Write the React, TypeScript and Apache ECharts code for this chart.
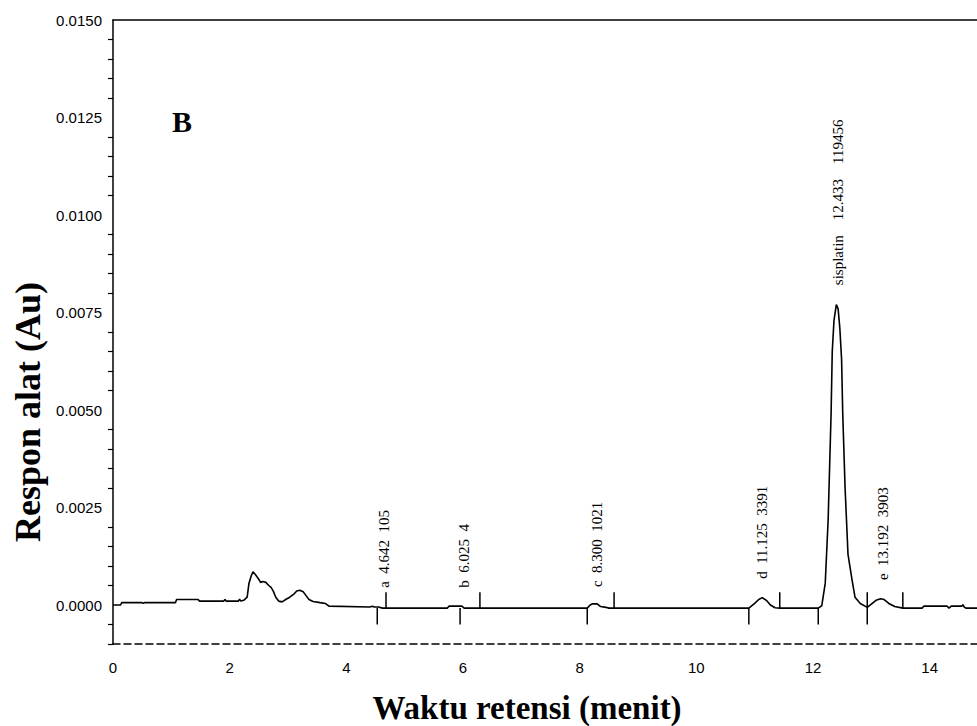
import React, { useEffect, useRef } from "react";
import * as echarts from "echarts";

// Chromatogram trace (retention time in minutes, detector response in AU)
const timeMin = [
  0.0, 0.13, 0.15, 0.5, 0.52, 0.54, 1.07, 1.09, 1.46, 1.48, 1.9, 1.92, 1.94, 2.15, 2.17, 2.19,
  2.24, 2.3, 2.33, 2.37, 2.4, 2.44, 2.49, 2.53, 2.57, 2.62, 2.67, 2.71, 2.75, 2.79, 2.84, 2.9,
  2.96, 3.03, 3.1, 3.15, 3.2, 3.26, 3.31, 3.36, 3.43, 3.55, 3.64, 3.7, 4.4, 4.45, 4.47, 4.55,
  4.62, 5.73, 5.76, 5.98, 6.02, 8.13, 8.18, 8.22, 8.3, 8.36, 8.45, 8.5, 10.9, 11.0, 11.07, 11.13,
  11.2, 11.27, 11.35, 11.43, 12.09, 12.15, 12.21, 12.26, 12.31, 12.33, 12.36, 12.4, 12.43, 12.46,
  12.49, 12.51, 12.55, 12.6, 12.67, 12.72, 12.81, 12.93, 13.0, 13.08, 13.16, 13.22, 13.3, 13.4,
  13.54, 13.87, 13.9, 14.3, 14.33, 14.37, 14.55, 14.57, 14.59, 14.62, 15.0,
];
const response = [
  0.0, 0.0, 0.00006, 0.00006, 0.00004, 0.00006, 0.00006, 0.00014, 0.00014, 0.0001, 0.0001,
  0.00014, 0.0001, 0.0001, 0.00015, 0.0001, 0.00012, 0.0002, 0.00055, 0.00075, 0.00085, 0.00078,
  0.00068, 0.00058, 0.0006, 0.00058, 0.0005, 0.00045, 0.00035, 0.0002, 0.0001, 0.00008, 0.00014,
  0.0002, 0.00028, 0.00036, 0.00038, 0.00034, 0.00024, 0.00014, 0.00009, 0.00006, 0.00004,
  -0.00003, -0.00005, -0.00003, -0.00005, -0.00005, -0.00008, -0.00008, -0.00003, -0.00003,
  -0.00008, -0.00008, 0.0, 0.00003, 0.00003, -0.00004, -0.00006, -0.00008, -0.00008, 0.00004,
  0.00014, 0.00019, 0.00012, 0.0, -0.00007, -0.00008, -0.00008, -0.00002, 0.00056, 0.0022,
  0.0049, 0.0065, 0.0073, 0.0077, 0.0076, 0.0071, 0.0063, 0.0049, 0.003, 0.0013, 0.00064, 0.0002,
  0.00004, -0.00006, 0.00002, 0.00012, 0.00016, 0.00014, 0.00004, -0.00004, -0.00008, -0.00008,
  -0.00003, -0.00003, -0.00008, -0.00003, -0.00003, 0.00001, -0.00005, -0.00008, -0.00008,
];

// Peak annotations
const peakNames = ["a", "b", "c", "d", "sisplatin", "e"];
const peakTimes = [4.642, 6.025, 8.3, 11.125, 12.433, 13.192];
const peakTimeLabels = ["4.642", "6.025", "8.300", "11.125", "12.433", "13.192"];
const peakAreas = ["105", "4", "1021", "3391", "119456", "3903"];
const peakLabelBase = [0.00044, 0.00044, 0.00046, 0.00067, 0.0082, 0.00064];

// Integration markers (start / end of peaks)
const markerTimes = [4.53, 4.68, 5.95, 6.29, 8.13, 8.59, 10.9, 11.43, 12.09, 12.93, 13.54];
const markerKinds = ["down", "up", "down", "up", "down", "up", "down", "up", "down", "both", "up"];
const markerBase = -0.00008;
const markerLow = -0.0005;
const markerHigh = 0.00033;

// Axes
const xMin = 0;
const xMax = 15;
const xStep = 2;
const xTickLabels = [0, 2, 4, 6, 8, 10, 12, 14];
const yMin = -0.001;
const yMax = 0.015;
const yStep = 0.0005;
const yTickLabels = ["0.0000", "0.0025", "0.0050", "0.0075", "0.0100", "0.0125", "0.0150"];

const serif = '"Liberation Serif", "Times New Roman", serif';
const sans = '"Liberation Sans", Arial, sans-serif';
const NB = "\u00A0";

export default function App() {
  const ref = useRef<HTMLDivElement>(null);

  useEffect(() => {
    if (!ref.current) return;
    const chart = echarts.init(ref.current, undefined, { renderer: "svg" });

    const traceData = timeMin.map((t, i) => [t, response[i]]);
    const markerData = markerTimes.map((t, i) => {
      const k = markerKinds[i];
      const lo = k === "up" ? markerBase : markerLow;
      const hi = k === "down" ? markerBase : markerHigh;
      return [t, lo, hi];
    });
    const labelData = peakTimes.map((t, i) => [t, peakLabelBase[i], i]);

    const yLabelValues = yTickLabels.map((s) => parseFloat(s));
    const yMinorValues: number[] = [];
    const nSteps = Math.round((yMax - yMin) / yStep);
    for (let k = 0; k <= nSteps; k++) {
      const v = +(yMin + k * yStep).toFixed(6);
      if (!yLabelValues.some((l) => Math.abs(l - v) < 1e-7)) yMinorValues.push(v);
    }

    chart.setOption({
      animation: false,
      backgroundColor: "#fff",
      grid: { left: 113, top: 20, width: 875, height: 624, show: false, containLabel: false, outerBoundsMode: "none" },
      xAxis: [
        {
          type: "value",
          min: xMin,
          max: xMax,
          interval: xStep,
          position: "bottom",
          axisLine: { show: true, onZero: false, lineStyle: { color: "#000", width: 1.5, type: [7, 4] } },
          axisTick: { show: false },
          splitLine: { show: false },
          axisLabel: {
            margin: 16,
            color: "#000",
            fontFamily: sans,
            fontSize: 15,
            customValues: xTickLabels,
            formatter: (v: number) => String(v),
          },
        },
        {
          type: "value",
          min: xMin,
          max: xMax,
          position: "top",
          axisLine: { show: true, onZero: false, lineStyle: { color: "#000", width: 1.5 } },
          axisTick: { show: false },
          splitLine: { show: false },
          axisLabel: { show: false },
        },
      ],
      yAxis: {
        type: "value",
        min: yMin,
        max: yMax,
        interval: yStep,
        axisLine: { show: true, onZero: false, lineStyle: { color: "#000", width: 1.5 } },
        axisTick: { show: true, length: 5, customValues: yMinorValues, lineStyle: { color: "#000", width: 1.2 } },
        splitLine: { show: false },
        axisLabel: {
          margin: 11,
          color: "#000",
          fontFamily: sans,
          fontSize: 15,
          customValues: yLabelValues,
          formatter: (v: number) => v.toFixed(4),
        },
      },
      graphic: [
        {
          type: "text",
          x: 172,
          y: 121,
          style: { text: "B", fontFamily: serif, fontWeight: "bold", fontSize: 30, fill: "#000", align: "left", verticalAlign: "middle" },
        },
        {
          type: "text",
          x: 527,
          y: 708,
          style: { text: "Waktu retensi (menit)", fontFamily: serif, fontWeight: "bold", fontSize: 33, fill: "#000", align: "center", verticalAlign: "middle" },
        },
        {
          type: "text",
          x: 28,
          y: 412,
          rotation: Math.PI / 2,
          style: { text: "Respon alat (Au)", fontFamily: serif, fontWeight: "bold", fontSize: 36, fill: "#000", align: "center", verticalAlign: "middle" },
        },
      ],
      series: [
        {
          type: "line",
          data: traceData,
          showSymbol: false,
          symbol: "none",
          lineStyle: { color: "#000", width: 1.6 },
          z: 3,
        },
        {
          type: "custom",
          data: markerData,
          renderItem: (_p: any, api: any) => {
            const a = api.coord([api.value(0), api.value(1)]);
            const b = api.coord([api.value(0), api.value(2)]);
            return {
              type: "line",
              shape: { x1: a[0], y1: a[1], x2: b[0], y2: b[1] },
              style: { stroke: "#000", lineWidth: 1.5 },
            };
          },
          z: 4,
        },
        {
          type: "custom",
          data: labelData,
          renderItem: (params: any, api: any) => {
            const i = params.dataIndex;
            const p = api.coord([api.value(0), api.value(1)]);
            const sep = peakNames[i].length > 1 ? " " + NB + NB + NB : " " + NB;
            return {
              type: "text",
              x: p[0],
              y: p[1],
              rotation: Math.PI / 2,
              style: {
                text: peakNames[i] + sep + peakTimeLabels[i] + sep + peakAreas[i],
                fontFamily: serif,
                fontSize: 15,
                fill: "#000",
                align: "left",
                verticalAlign: "middle",
              },
            };
          },
          z: 5,
        },
      ],
    });

    return () => chart.dispose();
  }, []);

  return <div ref={ref} style={{ position: "absolute", left: 0, top: 0, width: 977, height: 726 }} />;
}
